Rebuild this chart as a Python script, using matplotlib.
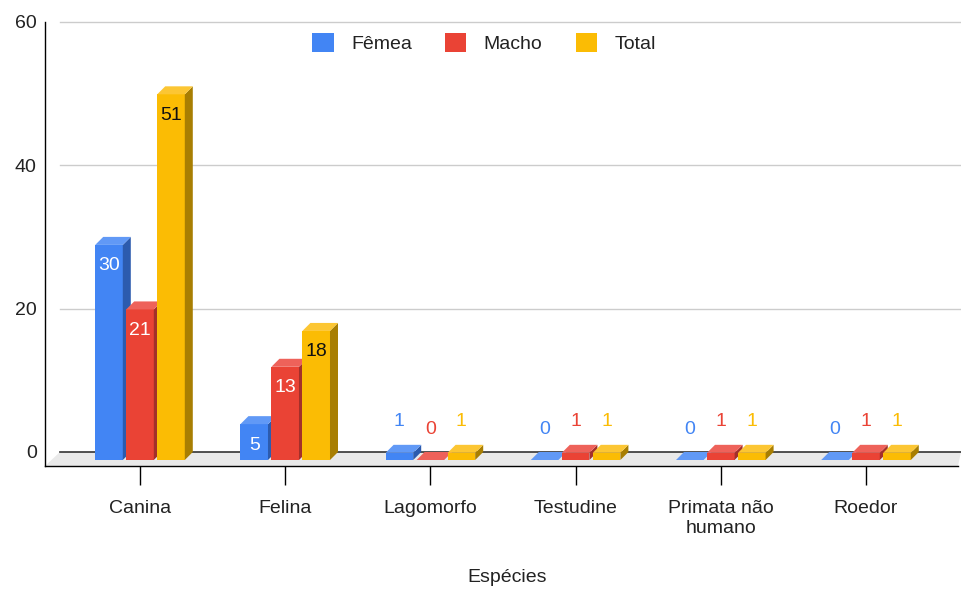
import matplotlib
matplotlib.use("Agg")
from matplotlib import pyplot as plt
from matplotlib.patches import Polygon, Patch
from matplotlib import transforms
import numpy as np

plt.rcParams['font.family'] = ['Liberation Sans', 'DejaVu Sans']

# data
categories = ["Canina", "Felina", "Lagomorfo", "Testudine", "Primata não\nhumano", "Roedor"]
series_names = ["Fêmea", "Macho", "Total"]
femea = [30, 5, 1, 0, 0, 0]
macho = [21, 13, 0, 1, 1, 1]
total = [51, 18, 1, 1, 1, 1]
yticks = [0, 20, 40, 60]

# colours: front, top, side
front_cols = ["#4285F4", "#EA4335", "#FBBC04"]
top_cols = ["#6199F6", "#EE625A", "#FCC633"]
side_cols = ["#2C5BAE", "#A3302A", "#A87E02"]
label_cols = ["white", "white", "#111111"]

W, H = 961, 589
fig = plt.figure(figsize=(W / 100, H / 100), dpi=100)

# front plane of the chart box, in pixels
left_px, right_px, bot_px, top_px = 45, 958, 466, 22
ax = fig.add_axes([left_px / W, 1 - bot_px / H, (right_px - left_px) / W, (bot_px - top_px) / H])

# category 0 centre at x=140px, 145.2px between categories; y: 0 at 460px, 7.17px per unit
px_x = 145.2
px_y = 7.17
ax.set_xlim((left_px - 140) / px_x, (right_px - 140) / px_x)
ax.set_ylim((460 - bot_px) / px_y, (460 - top_px) / px_y)

# depth of bars (8px) and of the box (back wall)
bdx, bdy = 8 / px_x, 8 / px_y
back_shift = transforms.ScaledTranslation(0, 8 / 100, fig.dpi_scale_trans)

# floor
fx0 = 15 / (right_px - left_px)
fx1 = (W - left_px) / (right_px - left_px)
fy = 14 / (bot_px - top_px)
ax.add_patch(Polygon([(0, 0), (1, 0), (fx1, fy), (fx0, fy)], closed=True,
                     transform=ax.transAxes, facecolor="#e9e9e9", edgecolor="none",
                     clip_on=False, zorder=0.5))

# back wall gridlines
grid_tr = transforms.blended_transform_factory(ax.transAxes, ax.transData) + back_shift
for t in yticks:
    ax.plot([fx0, fx1], [t, t], transform=grid_tr, clip_on=False,
            color="#333333" if t == 0 else "#cccccc", lw=1.2 if t == 0 else 1, zorder=0.8)

ax.set_yticks(yticks)
ax.set_yticklabels([str(t) for t in yticks])
ax.tick_params(axis="y", length=0, pad=6, labelsize=14, labelcolor="#222222")
for lab in ax.get_yticklabels():
    lab.set_transform(lab.get_transform() + back_shift)

x = np.arange(len(categories))
ax.set_xticks(x)
ax.set_xticklabels(categories)
ax.tick_params(axis="x", length=13.7, width=1, color="black", pad=11,
               labelsize=14, labelcolor="#222222")

for s in ["top", "right"]:
    ax.spines[s].set_visible(False)
for s in ["left", "bottom"]:
    ax.spines[s].set_color("black")
    ax.spines[s].set_linewidth(1)
    ax.spines[s].set_zorder(1)

# bars
pitch = 0.2135
bw = 0.19
all_vals = [femea, macho, total]
for i in range(len(categories)):
    for j, vals in enumerate(all_vals):
        v = vals[i]
        xc = x[i] + (j - 1) * pitch
        x0, x1 = xc - bw / 2, xc + bw / 2
        z = 3 + i * 0.1 + j * 0.02
        ax.bar(xc, v, bw, color=front_cols[j], zorder=z)
        if v > 0:
            ax.add_patch(Polygon([(x1, 0), (x1 + bdx, bdy), (x1 + bdx, v + bdy), (x1, v)],
                                 closed=True, facecolor=side_cols[j], edgecolor="none",
                                 zorder=z, clip_on=False))
        ax.add_patch(Polygon([(x0, v), (x1, v), (x1 + bdx, v + bdy), (x0 + bdx, v + bdy)],
                             closed=True, facecolor=top_cols[j], edgecolor="none",
                             zorder=z, clip_on=False))
        if v >= 3:
            ax.text(xc, v - 21 / px_y, str(v), ha="center", va="center",
                    fontsize=14, color=label_cols[j], zorder=10)
        else:
            ax.text(xc, v + 31 / px_y, str(v), ha="center", va="center",
                    fontsize=14, color=front_cols[j], zorder=10)

# legend
handles = [Patch(facecolor=c, edgecolor="none") for c in front_cols]
fig.legend(handles, series_names, loc="center", bbox_to_anchor=(484 / W, 1 - 43 / H),
           ncol=3, frameon=False, fontsize=14, handlelength=1.1, handleheight=1.1,
           handletextpad=0.9, columnspacing=1.7, labelcolor="#222222")

fig.text(507 / W, 1 - 578 / H, "Espécies", ha="center", va="center", fontsize=14, color="#222222")

fig.savefig("out.png", dpi=100)
